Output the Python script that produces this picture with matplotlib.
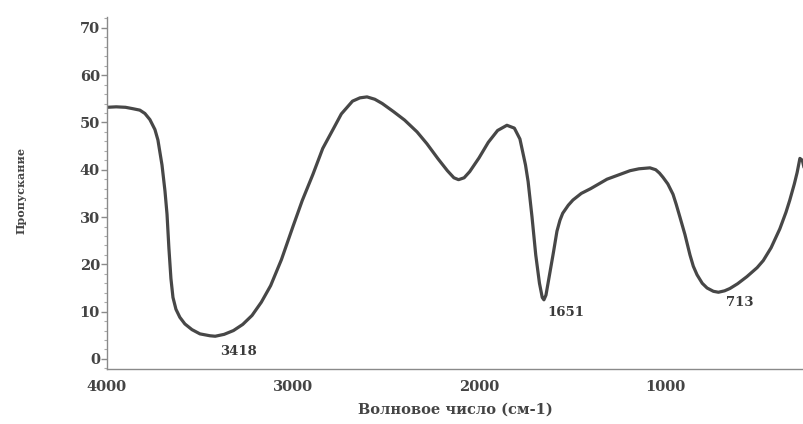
import matplotlib
matplotlib.use("Agg")
import matplotlib.pyplot as plt
from matplotlib.ticker import MultipleLocator

wavenumber = [4000, 3950, 3900, 3860, 3823, 3796, 3769, 3742, 3726, 3704, 3688, 3677, 3667,
              3656, 3645, 3629, 3608, 3581, 3543, 3500, 3446, 3418, 3370, 3320, 3270, 3220,
              3170, 3120, 3062, 3000, 2950, 2893, 2840, 2785, 2740, 2680, 2640, 2602, 2560,
              2520, 2460, 2400, 2333, 2280, 2220, 2170, 2135, 2110, 2080, 2050, 2000, 1950,
              1900, 1850, 1810, 1780, 1750, 1736, 1715, 1695, 1675, 1660, 1651, 1640, 1620,
              1600, 1581, 1565, 1550, 1520, 1495, 1450, 1400, 1312, 1250, 1188, 1140, 1081,
              1050, 1030, 1011, 985, 957, 940, 920, 893, 866, 848, 828, 800, 774, 740, 713,
              680, 651, 610, 560, 505, 472, 430, 383, 350, 330, 305, 290, 275, 262, 253]
transmission = [53.2, 53.3, 53.2, 52.9, 52.6, 51.9, 50.6, 48.5, 46.3, 41.0, 35.5, 30.6, 23.5,
                17.0, 13.0, 10.5, 8.8, 7.4, 6.2, 5.3, 4.9, 4.8, 5.2, 6.0, 7.3, 9.2,
                12.0, 15.5, 21.0, 28.0, 33.5, 39.0, 44.5, 48.5, 51.8, 54.5, 55.2, 55.4, 54.9,
                54.0, 52.3, 50.5, 48.0, 45.5, 42.3, 39.8, 38.3, 37.9, 38.3, 39.6, 42.5, 45.8,
                48.3, 49.4, 48.8, 46.5, 41.0, 37.5, 30.0, 22.0, 16.0, 13.0, 12.5, 13.5, 18.0,
                22.5, 27.0, 29.3, 30.8, 32.5, 33.6, 35.0, 36.0, 38.0, 38.9, 39.8, 40.2, 40.4,
                40.0, 39.3, 38.4, 37.0, 34.8, 32.7, 30.0, 26.3, 22.0, 19.6, 17.8, 16.0, 15.0,
                14.3, 14.1, 14.4, 14.9, 15.9, 17.4, 19.3, 20.8, 23.5, 27.5, 31.0, 33.5, 37.0,
                39.4, 42.4, 42.0, 40.5]

peak_positions = [3418, 1651, 713]
peak_values = [4.8, 12.5, 14.1]
peak_labels = ["3418", "1651", "713"]
label_offsets = [(23, -15), (22, -13), (21, -10)]

x_ticks = [4000, 3000, 2000, 1000]
y_ticks = [0, 10, 20, 30, 40, 50, 60, 70]

fig = plt.figure(figsize=(8.04, 4.24), dpi=100)
ax = fig.add_axes([0.133, 0.13, 0.867, 0.83])

ax.plot(wavenumber, transmission, color="#474747", lw=2.3,
        solid_capstyle="round", solid_joinstyle="round")

for px, pv, lab, off in zip(peak_positions, peak_values, peak_labels, label_offsets):
    ax.annotate(lab, xy=(px, pv), xytext=off, textcoords="offset pixels",
                ha="center", va="center", family="DejaVu Serif", fontweight="bold",
                fontsize=9.5, color="#3a3a3a")

ax.set_xlim(4000, 253)
ax.set_ylim(-2.1, 72.3)
ax.set_xticks(x_ticks)
ax.set_xticklabels([str(t) for t in x_ticks])
ax.set_yticks(y_ticks)
ax.set_yticklabels([str(t) for t in y_ticks])
ax.yaxis.set_minor_locator(MultipleLocator(2))

for s in ["top", "right"]:
    ax.spines[s].set_visible(False)
for s in ["left", "bottom"]:
    ax.spines[s].set_color("#8a8a8a")
    ax.spines[s].set_linewidth(1.0)

ax.tick_params(axis="y", which="major", length=4, width=1, color="#8a8a8a", pad=1,
               labelsize=10.5, labelcolor="#444444")
ax.tick_params(axis="y", which="minor", length=2, width=0.8, color="#aaaaaa")
ax.tick_params(axis="x", which="major", length=0, pad=8, labelsize=10.5, labelcolor="#444444")
for lab in ax.get_xticklabels() + ax.get_yticklabels():
    lab.set_family("DejaVu Serif")
    lab.set_fontweight("bold")

ax.set_xlabel("Волновое число (см-1)", family="DejaVu Serif", fontweight="bold",
              fontsize=10.5, color="#444444", labelpad=6)
fig.text(0.026, 0.55, "Пропускание", rotation=90, ha="center", va="center",
         family="DejaVu Serif", fontweight="bold", fontsize=8, color="#444444")

fig.savefig("out.png", dpi=100)
